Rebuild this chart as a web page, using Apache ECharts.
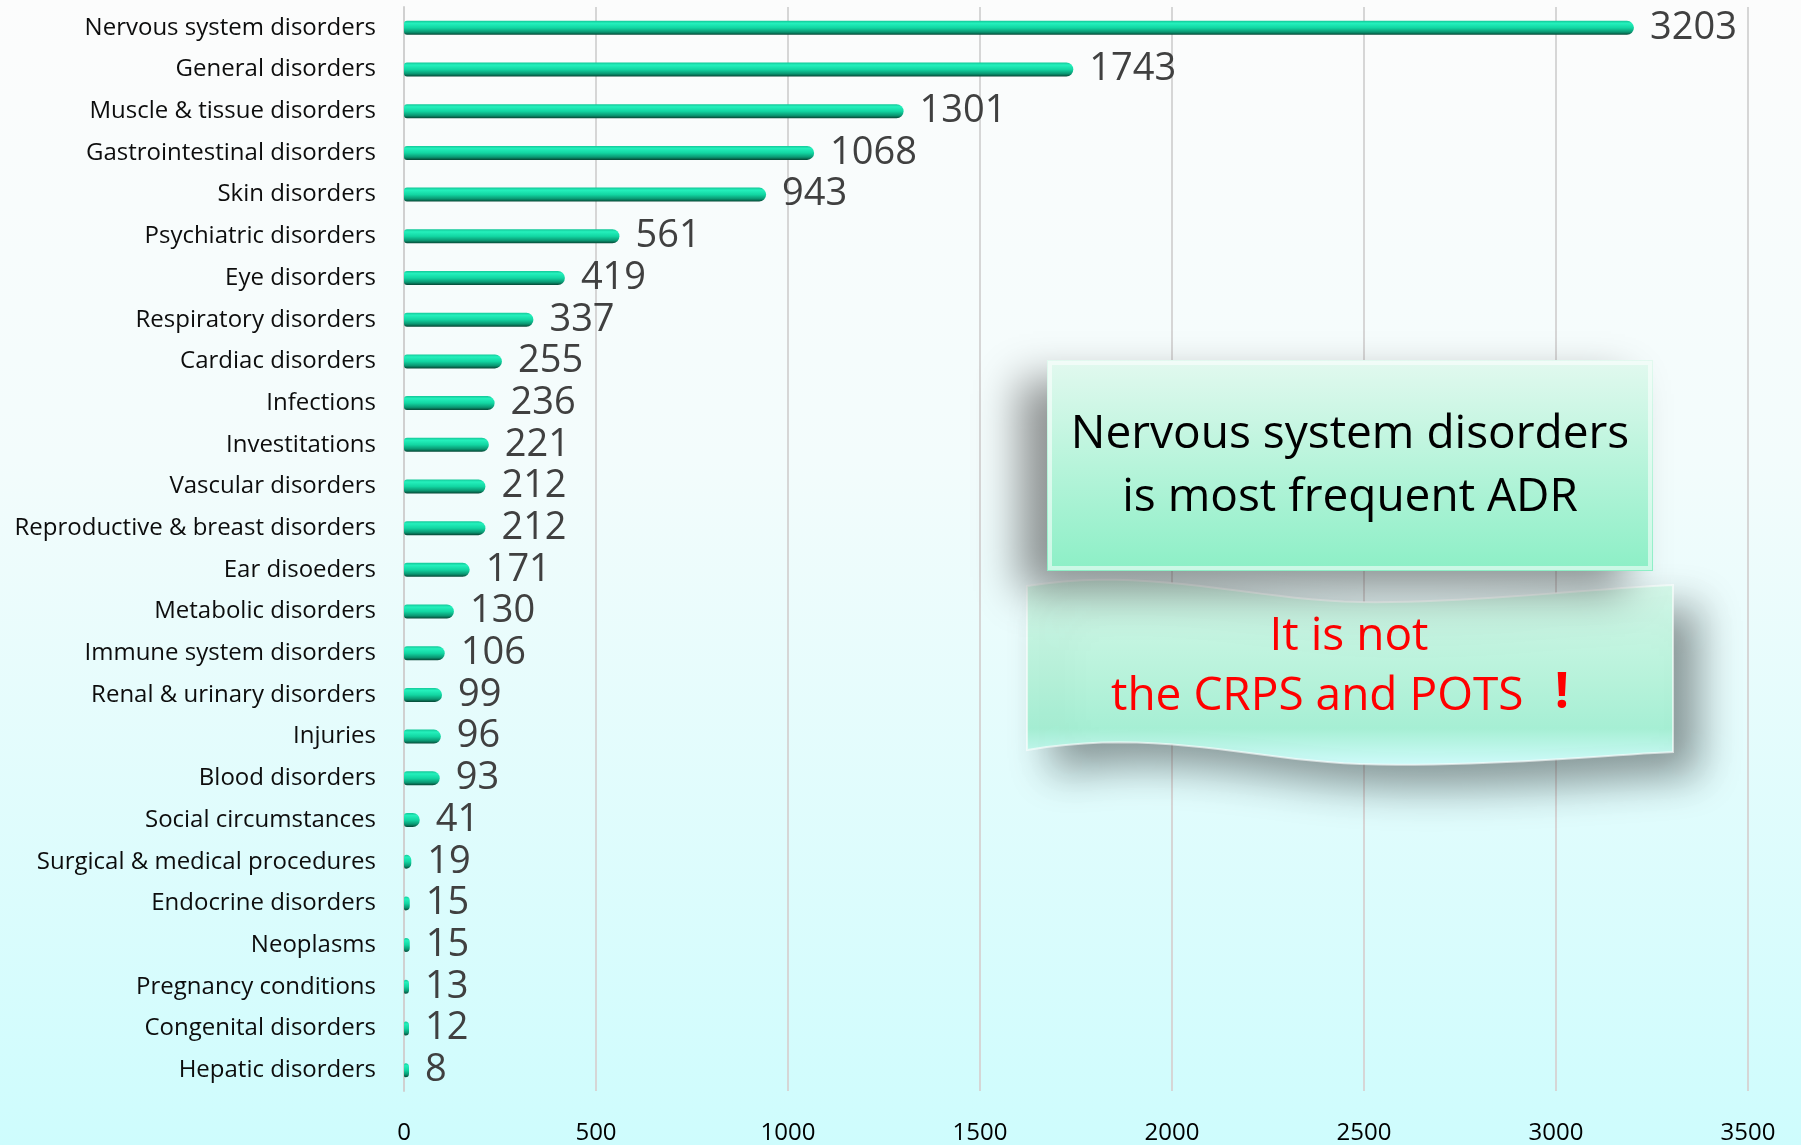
<!DOCTYPE html>
<html>
<head>
<meta charset="utf-8">
<script src="https://cdn.jsdelivr.net/npm/echarts@6/dist/echarts.min.js"></script>
<style>
  html, body { margin: 0; padding: 0; }
  #chart { width: 1801px; height: 1145px; }
</style>
</head>
<body>
<div id="chart"></div>
<script>
// categories, top to bottom
const categories = [
  'Nervous system disorders', 'General disorders', 'Muscle & tissue disorders',
  'Gastrointestinal disorders', 'Skin disorders', 'Psychiatric disorders',
  'Eye disorders', 'Respiratory disorders', 'Cardiac disorders', 'Infections',
  'Investitations', 'Vascular disorders', 'Reproductive & breast disorders',
  'Ear disoeders', 'Metabolic disorders', 'Immune system disorders',
  'Renal & urinary disorders', 'Injuries', 'Blood disorders',
  'Social circumstances', 'Surgical & medical procedures', 'Endocrine disorders',
  'Neoplasms', 'Pregnancy conditions', 'Congenital disorders', 'Hepatic disorders'
];
const counts = [
  3203, 1743, 1301, 1068, 943, 561, 419, 337, 255, 236, 221, 212, 212,
  171, 130, 106, 99, 96, 93, 41, 19, 15, 15, 13, 12, 8
];
const noteTop = ['Nervous system disorders', 'is most frequent ADR'];
const noteBottom = ['It is not', 'the CRPS and POTS'];

const font = '"Open Sans", "Noto Sans", sans-serif';

// sample a cubic bezier for the wavy note outline
function bez(p0, p1, p2, p3, n) {
  let pts = [];
  for (let i = 0; i <= n; i++) {
    let t = i / n, u = 1 - t;
    pts.push([
      u * u * u * p0[0] + 3 * u * u * t * p1[0] + 3 * u * t * t * p2[0] + t * t * t * p3[0],
      u * u * u * p0[1] + 3 * u * u * t * p1[1] + 3 * u * t * t * p2[1] + t * t * t * p3[1]
    ]);
  }
  return pts;
}
const wave = [].concat(
  bez([1027, 586], [1150, 566], [1250, 600], [1360, 602], 20),
  bez([1360, 602], [1460, 604], [1600, 588], [1673, 585], 20),
  bez([1673, 752], [1620, 754], [1480, 768], [1360, 764], 20),
  bez([1360, 764], [1250, 760], [1160, 728], [1027, 750], 20)
);

const chart = echarts.init(document.getElementById('chart'));

// 绘制横向柱状图
let option = {
  backgroundColor: {
    type: 'linear', x: 0, y: 0, x2: 0, y2: 1,
    colorStops: [
      { offset: 0, color: '#fcfcfc' },
      { offset: 0.4, color: '#f3fcfc' },
      { offset: 1, color: '#cefcfd' }
    ]
  },
  animation: false,
  grid: { left: 404, right: 53, top: 7, height: 1087 },
  xAxis: {
    type: 'value',
    min: 0,
    max: 3500,
    interval: 500,
    axisLine: { show: false },
    axisTick: { show: false },
    axisLabel: {
      color: '#000', fontSize: 24, fontFamily: font, margin: 30,
      formatter: v => String(v)
    },
    splitLine: { lineStyle: { color: '#d6d6d6', width: 2 } }
  },
  yAxis: {
    type: 'category',
    data: categories,
    inverse: true,
    axisLine: { show: true, lineStyle: { color: '#d0d0d0', width: 2 } },
    axisTick: { show: false },
    axisLabel: { color: '#0d0d0d', fontSize: 24, fontFamily: font, margin: 28 }
  },
  series: [
    {
      type: 'bar',
      data: counts,
      barWidth: 14,
      barMinHeight: 5,
      itemStyle: {
        borderRadius: [3, 7, 7, 3],
        color: {
          type: 'linear', x: 0, y: 0, x2: 0, y2: 1,
          colorStops: [
            { offset: 0, color: '#12c898' },
            { offset: 0.18, color: '#24f0bc' },
            { offset: 0.5, color: '#12d6a2' },
            { offset: 0.8, color: '#0a9772' },
            { offset: 1, color: '#064634' }
          ]
        }
      },
      label: {
        show: true,
        position: 'right',
        distance: 16,
        color: '#404040',
        fontSize: 38,
        fontFamily: font
      }
    }
  ],
  graphic: [
    // wavy note, drawn first so the upper box shadow falls on it
    {
      type: 'polygon',
      z: 100,
      shape: { points: wave },
      style: {
        fill: {
          type: 'linear', x: 0, y: 0, x2: 0, y2: 1,
          colorStops: [
            { offset: 0, color: '#d6f8ea' },
            { offset: 0.55, color: '#b6f2da' },
            { offset: 0.8, color: '#a6efd4' },
            { offset: 1, color: '#d0fcfc' }
          ]
        },
        stroke: 'rgba(255,255,255,0.6)',
        lineWidth: 2,
        shadowBlur: 40,
        shadowColor: 'rgba(60,70,70,0.55)',
        shadowOffsetX: 25,
        shadowOffsetY: 22
      }
    },
    {
      type: 'text',
      z: 101,
      style: {
        text: noteBottom[0], x: 1349, y: 637,
        fill: '#ff0000', fontSize: 46, fontFamily: font,
        textAlign: 'center', textVerticalAlign: 'middle'
      }
    },
    {
      type: 'text',
      z: 101,
      style: {
        text: noteBottom[1], x: 1111, y: 697,
        fill: '#ff0000', fontSize: 46, fontFamily: font,
        textAlign: 'left', textVerticalAlign: 'middle'
      }
    },
    {
      type: 'text',
      z: 101,
      style: {
        text: '!', x: 1562, y: 694,
        fill: '#ff0000', fontSize: 50, fontWeight: 'bold', fontFamily: font,
        textAlign: 'center', textVerticalAlign: 'middle'
      }
    },
    // upper box
    {
      type: 'rect',
      z: 110,
      shape: { x: 1047, y: 360, width: 606, height: 211 },
      style: {
        fill: {
          type: 'linear', x: 0, y: 0, x2: 0, y2: 1,
          colorStops: [
            { offset: 0, color: '#e2f9ef' },
            { offset: 1, color: '#8cefc6' }
          ]
        },
        shadowBlur: 40,
        shadowColor: 'rgba(60,60,60,0.55)',
        shadowOffsetX: -28,
        shadowOffsetY: 20
      }
    },
    {
      type: 'rect',
      z: 111,
      shape: { x: 1050, y: 363, width: 600, height: 205 },
      style: {
        fill: 'none',
        stroke: 'rgba(255,255,255,0.55)',
        lineWidth: 4
      }
    },
    {
      type: 'text',
      z: 112,
      style: {
        text: noteTop[0], x: 1350, y: 435,
        fill: '#000', fontSize: 46, fontFamily: font,
        textAlign: 'center', textVerticalAlign: 'middle'
      }
    },
    {
      type: 'text',
      z: 112,
      style: {
        text: noteTop[1], x: 1350, y: 498,
        fill: '#000', fontSize: 46, fontFamily: font,
        textAlign: 'center', textVerticalAlign: 'middle'
      }
    }
  ]
};

option && chart.setOption(option);
</script>
</body>
</html>
